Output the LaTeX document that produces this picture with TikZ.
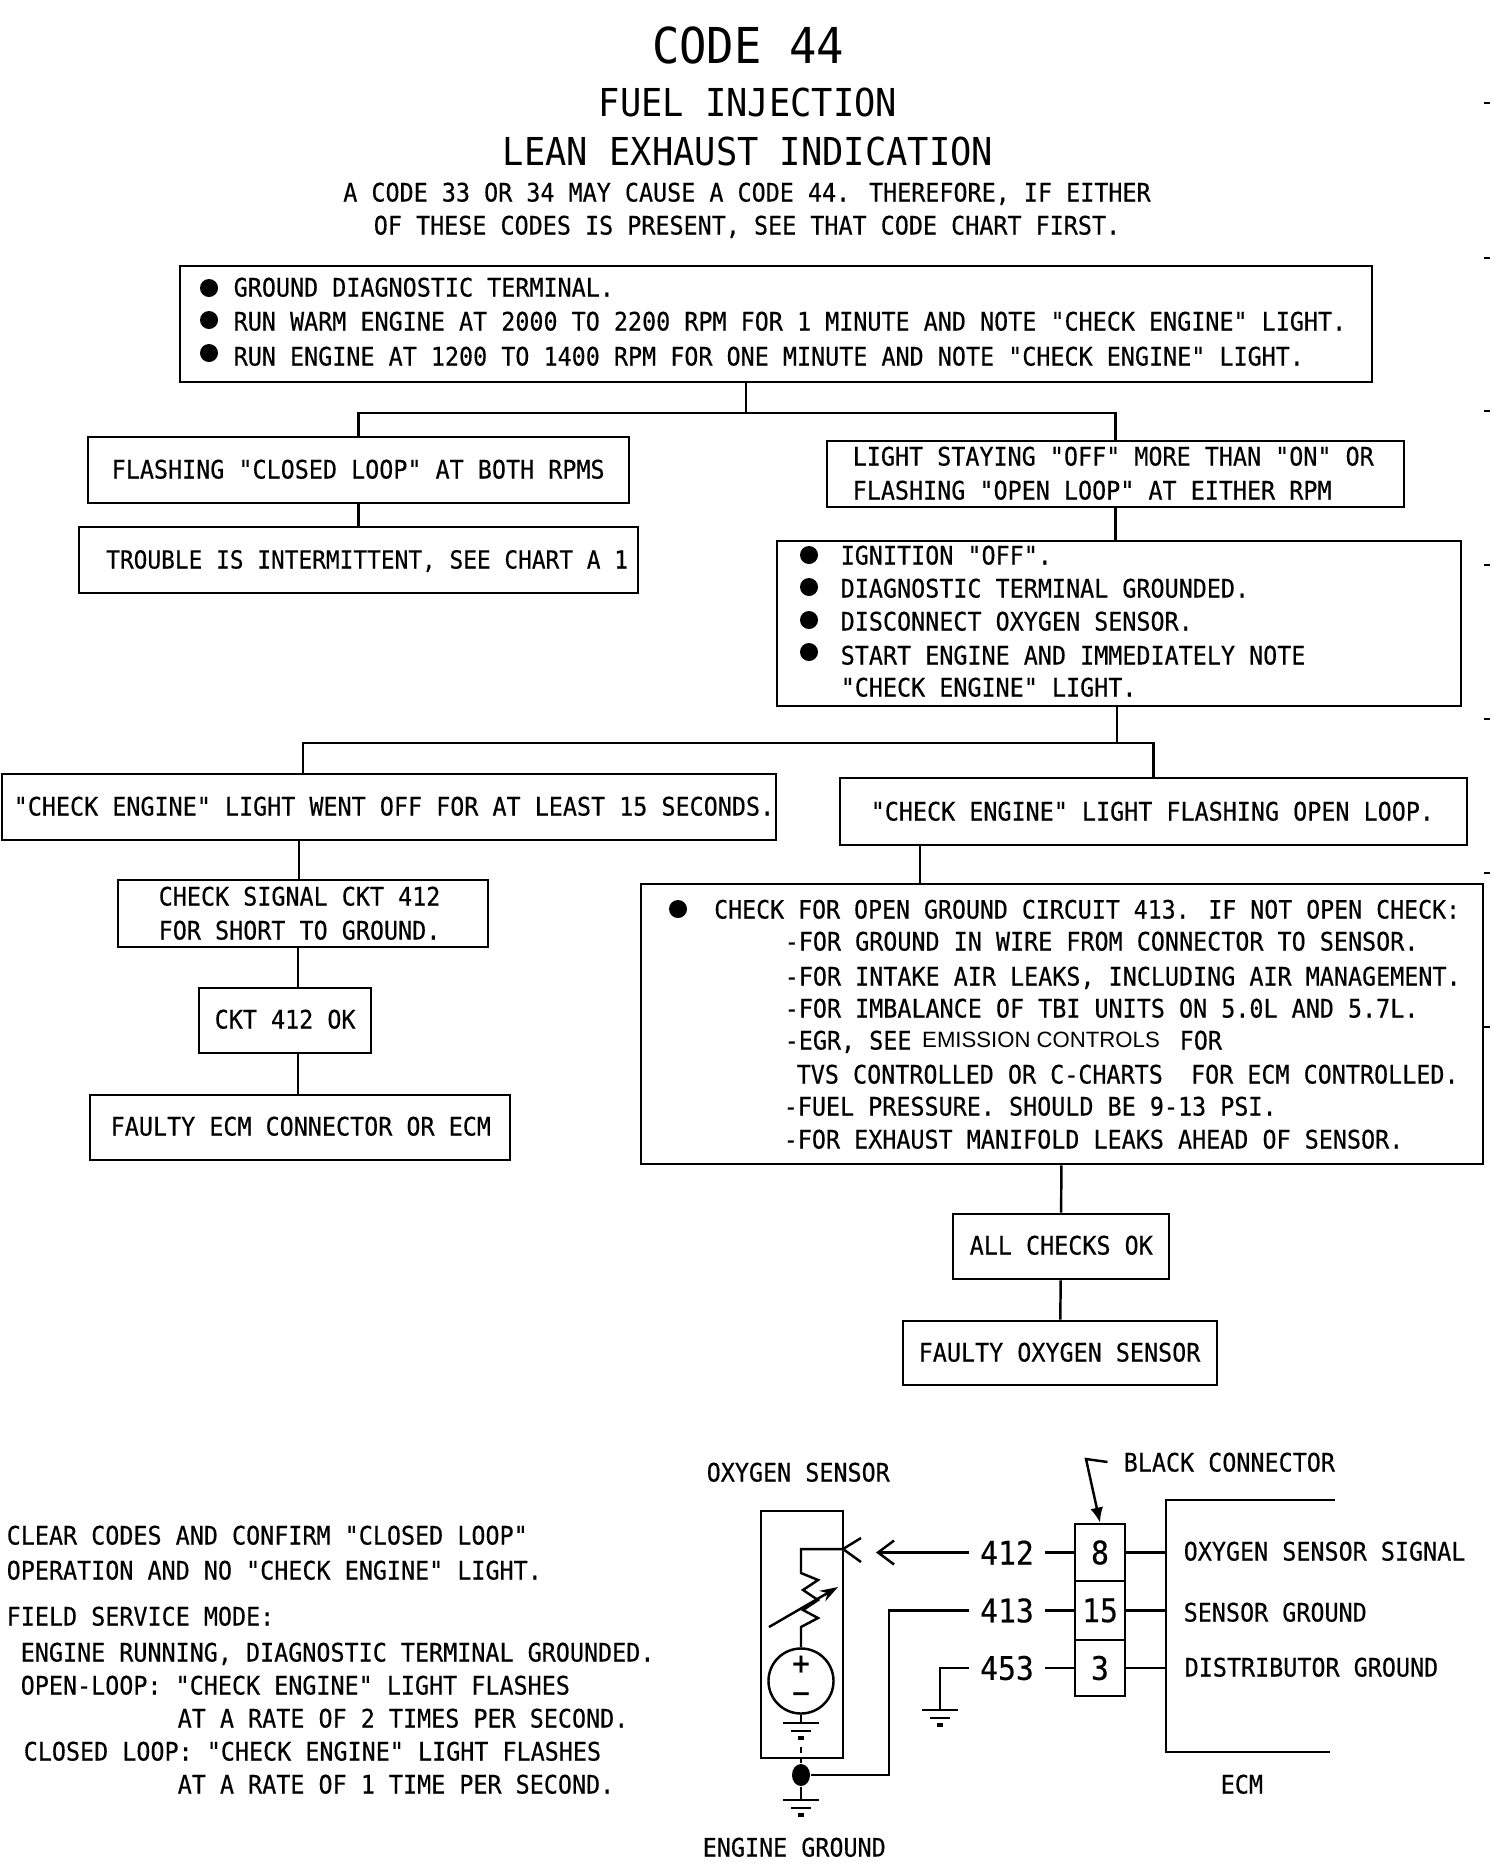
\documentclass[tikz,border=0pt]{standalone}
\usepackage{fontspec}
\usetikzlibrary{fit,arrows.meta,shapes.geometric}
\newfontfamily\plotfont[FakeStretch=0.92]{DejaVu Sans Mono}
\newfontfamily\plotbold[FakeStretch=0.92,FakeBold=0.4]{DejaVu Sans Mono}
\newfontfamily\typedfont{Liberation Sans}
\newcommand{\bodyfont}{\plotbold\fontsize{7.23}{9}\selectfont}
\newcommand{\numfont}{\plotbold\fontsize{9.2}{10}\selectfont}
\tikzset{
    box/.style = {draw, line width=0.8pt, inner sep=0pt},
    txt/.style = {anchor=west, inner sep=0pt, text height=0.19cm, text depth=0pt, font=\bodyfont},
    head/.style = {inner sep=0pt, text depth=0pt, font=\bodyfont, text height=0.19cm},
    bul/.style = {circle, fill=black, inner sep=0pt, minimum size=0.18cm},
    num/.style = {inner ysep=0pt, inner xsep=0.1cm, font=\numfont},
    pinbox/.style = {box, minimum width=0.5cm, font=\numfont},
    gnd/.pic = {
        \draw (-18,0) -- (18,0);
        \draw (-10,8) -- (10,8);
        \draw[line width=1pt] (-3,15) -- (3,15);
    }
}
\begin{document}
\begin{tikzpicture}[x=0.01cm, y=-0.01cm, line width=0.7pt]
    \useasboundingbox (0,0) rectangle (1504,1866);
    % headings
    \node[head, font=\plotfont\fontsize{14.07}{16}\selectfont, text height=0.36cm] (title) at (748,45) {CODE 44};
    \node[head, font=\plotfont\fontsize{10.94}{13}\selectfont, text height=0.28cm] (fuel) at (748,102) {FUEL INJECTION};
    \node[head, font=\plotfont\fontsize{10.94}{13}\selectfont, text height=0.28cm] (lean) at (748,151) {LEAN EXHAUST INDICATION};
    \node[head] (note1) at (747,192) {A CODE 33 OR 34 MAY CAUSE A CODE 44. THEREFORE, IF EITHER};
    \node[head] (note2) at (747,225) {OF THESE CODES IS PRESENT, SEE THAT CODE CHART FIRST.};
    % boxes
    \foreach \nam/\xa/\ya/\xb/\yb in {
        topbox/180/266/1372/382, flashbox/88/437/629/503, introuble/79/527/638/593,
        stayoff/827/441/1404/507, ignition/777/541/1461/706, wentoff/2/774/776/840,
        openloop/840/778/1467/845, shortgnd/118/880/488/947, cktok/199/988/371/1053,
        faultyecm/90/1095/510/1160, checks/641/884/1483/1164, allok/953/1214/1169/1279,
        faultyox/903/1321/1217/1385}{
        \node[box, fit={(\xa,\ya)(\xb,\yb)}] (\nam) {};
    }
    % text in the boxes
    \foreach \x/\y/\lab in {
        234/288/{GROUND DIAGNOSTIC TERMINAL.},
        234/322/{RUN WARM ENGINE AT 2000 TO 2200 RPM FOR 1 MINUTE AND NOTE "CHECK ENGINE" LIGHT.},
        234/357/{RUN ENGINE AT 1200 TO 1400 RPM FOR ONE MINUTE AND NOTE "CHECK ENGINE" LIGHT.},
        112/470/{FLASHING "CLOSED LOOP" AT BOTH RPMS},
        853/457/{LIGHT STAYING "OFF" MORE THAN "ON" OR},
        853/491/{FLASHING "OPEN LOOP" AT EITHER RPM},
        841/556/{IGNITION "OFF".},
        841/589/{DIAGNOSTIC TERMINAL GROUNDED.},
        841/622/{DISCONNECT OXYGEN SENSOR.},
        841/656/{START ENGINE AND IMMEDIATELY NOTE},
        841/688/{"CHECK ENGINE" LIGHT.},
        14/807/{"CHECK ENGINE" LIGHT WENT OFF FOR AT LEAST 15 SECONDS.},
        871/812/{"CHECK ENGINE" LIGHT FLASHING OPEN LOOP.},
        159/897/{CHECK SIGNAL CKT 412},
        159/931/{FOR SHORT TO GROUND.},
        215/1020/{CKT 412 OK},
        111/1127/{FAULTY ECM CONNECTOR OR ECM},
        785/942/{-FOR GROUND IN WIRE FROM CONNECTOR TO SENSOR.},
        785/977/{-FOR INTAKE AIR LEAKS, INCLUDING AIR MANAGEMENT.},
        785/1009/{-FOR IMBALANCE OF TBI UNITS ON 5.0L AND 5.7L.},
        785/1041/{-EGR, SEE},
        1180/1041/{FOR},
        797/1075/{TVS CONTROLLED OR C-CHARTS~~FOR ECM CONTROLLED.},
        784/1107/{-FUEL PRESSURE. SHOULD BE 9-13 PSI.},
        784/1140/{-FOR EXHAUST MANIFOLD LEAKS AHEAD OF SENSOR.},
        970/1246/{ALL CHECKS OK},
        919/1353/{FAULTY OXYGEN SENSOR},
        7/1536/{CLEAR CODES AND CONFIRM "CLOSED LOOP"},
        7/1571/{OPERATION AND NO "CHECK ENGINE" LIGHT.},
        7/1617/{FIELD SERVICE MODE:},
        21/1653/{ENGINE RUNNING, DIAGNOSTIC TERMINAL GROUNDED.},
        21/1686/{OPEN-LOOP: "CHECK ENGINE" LIGHT FLASHES},
        178/1719/{AT A RATE OF 2 TIMES PER SECOND.},
        24/1752/{CLOSED LOOP: "CHECK ENGINE" LIGHT FLASHES},
        178/1785/{AT A RATE OF 1 TIME PER SECOND.},
        707/1473/{OXYGEN SENSOR},
        1184/1552/{OXYGEN SENSOR SIGNAL},
        1184/1613/{SENSOR GROUND},
        1185/1668/{DISTRIBUTOR GROUND},
        1221/1785/{ECM},
        703/1848/{ENGINE GROUND}}{
        \node[txt] (t\x-\y) at (\x-1.5,\y-1) {\lab};
    }
    \node[txt, font=\plotbold\fontsize{7.05}{9}\selectfont] (trouble) at (105,559) {TROUBLE IS INTERMITTENT, SEE CHART A 1};
    \node[txt, font=\plotbold\fontsize{7.18}{9}\selectfont] (opencheck) at (713,909) {CHECK FOR OPEN GROUND CIRCUIT 413. IF NOT OPEN CHECK:};
    \node[anchor=west, inner sep=0pt, font=\typedfont\fontsize{6.3}{8}\selectfont] (emission) at (921,1040) {EMISSION CONTROLS};
    \node[txt] (blackcon) at (1122.5,1462) {BLACK CONNECTOR};
    % bullets
    \foreach \x/\y in {209/288, 209/320, 209/353, 809/555, 809/587, 809/620, 809/652, 678/909}{
        \node[bul] (b\x-\y) at (\x,\y) {};
    }
    % connectors of the chart
    \coordinate (topfork) at (746,413);
    \coordinate (midfork) at (1117,743);
    \coordinate (wentdrop) at (303,774);
    \coordinate (leftdrop) at (299,880);
    \coordinate (okdrop) at (298,988);
    \coordinate (checksdrop) at (920,884);
    \draw (topbox.south -| topfork) -- (topfork);
    \draw (flashbox.north) |- (topfork) -| (stayoff.north);
    \draw (flashbox) -- (introuble);
    \draw (stayoff) -- (ignition.north -| stayoff);
    \draw (ignition.south -| midfork) -- (midfork);
    \draw (wentdrop) |- (midfork) -| (openloop.north);
    \draw (wentoff.south -| leftdrop) -- (leftdrop);
    \draw (shortgnd.south -| okdrop) -- (okdrop);
    \draw (cktok.south -| okdrop) -- (faultyecm.north -| okdrop);
    \draw (openloop.south -| checksdrop) -- (checksdrop);
    \draw (checks) -- (allok);
    \draw (allok) -- (faultyox);
    % sensor
    \node[box, fit={(761,1511)(843,1758)}] (sensor) {};
    \node[draw, circle, inner sep=0pt, minimum size=0.65cm] (source) at (801,1681) {};
    \node[inner sep=0pt, font=\numfont] (plus) at (801,1665) {+};
    \node[inner sep=0pt, font=\numfont] (minus) at (801,1698) {−};
    \coordinate (pin) at (843,1549);
    \draw (source.north) -- (801,1627) -- (818,1618) -- (803,1610) -- (818,1600) -- (803,1590) -- (818,1580) -- (801,1573) |- (pin);
    \draw (861,1538) -- (pin) -- (861,1562);
    \draw[-{Stealth[length=0.18cm,width=0.12cm]}] (769,1627) -- (838,1587);
    \draw (source.south) -- (801,1723);
    \pic at (801,1723) {gnd};
    \draw (801,1747) -- (801,1753);
    \node[ellipse, fill=black, inner sep=0pt, minimum width=0.18cm, minimum height=0.22cm] (enggnd) at (801,1775) {};
    \draw (sensor.south -| enggnd) -- (enggnd) -- (801,1800);
    \pic at (801,1800) {gnd};
    % connector and ECM
    \node[pinbox, minimum height=0.57cm] (pin8) at (1100,1552.5) {8};
    \node[pinbox, minimum height=0.59cm] (pin15) at (1100,1610.5) {15};
    \node[pinbox, minimum height=0.56cm] (pin3) at (1100,1668) {3};
    \node[num] (w412) at (1007,1552.5) {412};
    \node[num] (w413) at (1007,1610.5) {413};
    \node[num] (w453) at (1007,1668) {453};
    \coordinate (bend413) at (889,1610.5);
    \coordinate (bend453) at (940,1668);
    \coordinate (ecmtop) at (1166,1500);
    \coordinate (ecmbot) at (1166,1752);
    \coordinate (blackbend) at (1086,1459);
    \draw[-{Straight Barb[length=0.16cm,width=0.24cm]}] (w412) -- (876,1552.5);
    \draw (w412) -- (pin8);
    \draw (w413) -- (pin15);
    \draw (w453) -- (pin3);
    \draw (enggnd) -| (bend413) -- (w413);
    \draw (w453) -- (bend453) -- (940,1710);
    \pic at (940,1710) {gnd};
    \draw (1335,1500) -- (ecmtop) -- (ecmbot) -- (1330,1752);
    \draw (pin8) -- (pin8 -| ecmtop);
    \draw (pin15) -- (pin15 -| ecmtop);
    \draw (pin3) -- (pin3 -| ecmtop);
    \draw[-{Latex[length=0.15cm,width=0.13cm]}] ([xshift=-0.15cm]blackcon.west) -- (blackbend) -- (pin8.north);
    % marks on the right edge
    \foreach \y in {103, 258, 411, 565, 719, 873, 1027}{
        \draw[line width=0.4pt] (1484,\y) -- (1490,\y);
    }
\end{tikzpicture}
\end{document}
